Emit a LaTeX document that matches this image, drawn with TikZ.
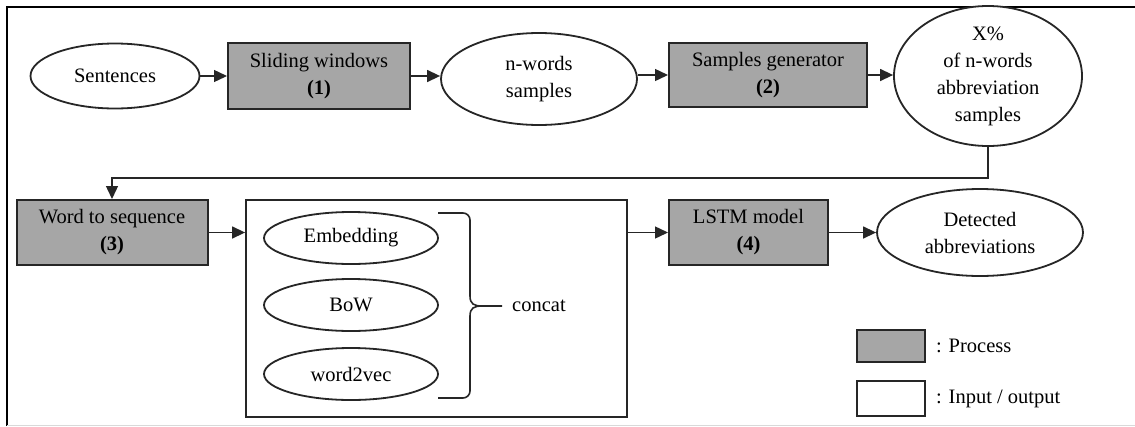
\documentclass[tikz,border=0pt]{standalone}
\usepackage{fontspec}
\setmainfont{Liberation Serif}
\usetikzlibrary{shapes.geometric,arrows.meta}
\definecolor{procgray}{RGB}{166,166,166}
\tikzset{
  base/.style={font=\fontsize{20.5}{27}\selectfont, align=center, inner sep=0pt, text=black},
  proc/.style={base, rectangle, draw=black!85, line width=2pt, fill=procgray},
  io/.style={base, ellipse, draw=black!85, line width=1.8pt, fill=white},
  iobox/.style={base, rectangle, draw=black!85, line width=1.8pt, fill=white},
  arr/.style={draw=black!85, line width=1.4pt, -{Triangle[length=13pt,width=12pt]}},
  frame/.style={draw=black, line width=2pt},
}
\begin{document}
\begin{tikzpicture}[x=1pt,y=-1pt]
\useasboundingbox (0,0) rectangle (1135,426);
\draw[frame] (7,426) -- (7,7) -- (1135,7);
\draw[black!15, line width=1pt] (7,425) -- (1135,425);

\node[io, minimum width=169pt, minimum height=65pt] (sent) at (115,76) {Sentences};
\node[proc, minimum width=182pt, minimum height=66pt] (slide) at (319,76) {Sliding windows\\\textbf{(1)}};
\node[io, minimum width=196pt, minimum height=92pt] (nw) at (539,79) {n-words\\samples};
\node[proc, minimum width=198pt, minimum height=64pt] (sg) at (768,75) {Samples generator\\\textbf{(2)}};
\node[io, minimum width=188pt, minimum height=121pt] (xp) at (988,76) {X\%\\of n-words\\abbreviation\\samples};

\node[proc, minimum width=191pt, minimum height=65pt] (w2s) at (112,232.5) {Word to sequence\\\textbf{(3)}};
\node[iobox, minimum width=381pt, minimum height=217pt] (big) at (436.5,308.5) {};
\node[io, minimum width=174pt, minimum height=52pt] (emb) at (351,238) {Embedding};
\node[io, minimum width=174pt, minimum height=52pt] (bow) at (351,305) {BoW};
\node[io, minimum width=174pt, minimum height=52pt] (w2v) at (351,374) {word2vec};
\node[base, anchor=west] (concat) at (512,306) {concat};
\node[proc, minimum width=159pt, minimum height=65pt] (lstm) at (748.5,232.5) {LSTM model\\\textbf{(4)}};
\node[io, minimum width=206pt, minimum height=87pt] (det) at (980,232.5) {Detected\\abbreviations};

% brace
\coordinate (btop) at (438,213);
\coordinate (bbot) at (438,398);
\coordinate (btip) at (502,306);
\draw[draw=black!85, line width=1.6pt]
  (btop) -- (463,213) arc[start angle=90, end angle=0, radius=7pt] -- (470,296)
  .. controls (470,304) and (474,306) .. (482,306) -- (btip);
\draw[draw=black!85, line width=1.6pt]
  (bbot) -- (463,398) arc[start angle=-90, end angle=0, radius=7pt] -- (470,316)
  .. controls (470,308) and (474,306) .. (482,306);

% legend
\node[proc, minimum width=68pt, minimum height=32pt] (lp) at (891,346) {};
\node[iobox, minimum width=68pt, minimum height=35pt] (li) at (891,398.5) {};
\node[base, anchor=west] (lpt) at (936,346) {: Process};
\node[base, anchor=west] (lit) at (936,398.5) {: Input / output};

% connectors
\draw[arr] (sent) -- (slide);
\draw[arr] (slide) -- (nw.west |- slide.east);
\draw[arr] (nw.east |- sg.west) -- (sg.west);
\draw[arr] (sg) -- (xp.west |- sg.east);
\draw[arr] (xp.south) -- ++(0,31) -| (w2s.north);
\draw[arr] (w2s.east) -- (big.west |- w2s.east);
\draw[arr] (big.east |- lstm.west) -- (lstm.west);
\draw[arr] (lstm.east) -- (det.west);
\end{tikzpicture}
\end{document}
